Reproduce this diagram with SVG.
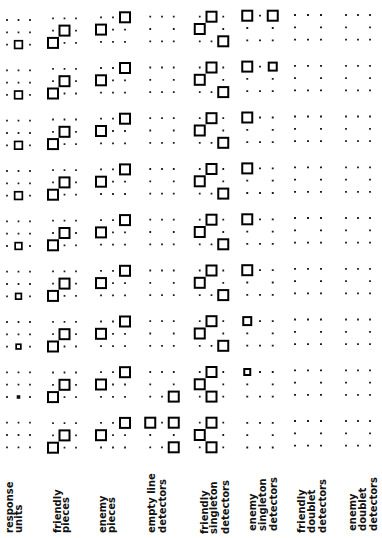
<svg xmlns="http://www.w3.org/2000/svg" xmlns:xlink="http://www.w3.org/1999/xlink" width="382" height="538" viewBox="0 0 382 538">
<style>
.dot{fill:#1a1a1a}
.sq{fill:#fff;stroke:#000;stroke-width:2}
.ru{fill:#fff;stroke:#000;stroke-width:1.7}
.lab{font-family:"DejaVu Sans",sans-serif;font-size:10px;font-weight:bold;fill:#111}
</style>
<defs>
<path id="n9" class="dot" d="M-12.9 -13.2h1.8v1.8h-1.8z M-0.9 -13.2h1.8v1.8h-1.8z M11.1 -13.2h1.8v1.8h-1.8z M-12.9 -0.9h1.8v1.8h-1.8z M-0.9 -0.9h1.8v1.8h-1.8z M11.1 -0.9h1.8v1.8h-1.8z M-12.9 11.4h1.8v1.8h-1.8z M-0.9 11.4h1.8v1.8h-1.8z M11.1 11.4h1.8v1.8h-1.8z"/>
<path id="n8" class="dot" d="M-12.9 -13.2h1.8v1.8h-1.8z M-0.9 -13.2h1.8v1.8h-1.8z M11.1 -13.2h1.8v1.8h-1.8z M-12.9 -0.9h1.8v1.8h-1.8z M11.1 -0.9h1.8v1.8h-1.8z M-12.9 11.4h1.8v1.8h-1.8z M-0.9 11.4h1.8v1.8h-1.8z M11.1 11.4h1.8v1.8h-1.8z"/>
<rect id="sq" class="sq" x="-5" y="-5" width="10" height="10"/>
<g id="c1"><use href="#n9" transform="scale(0.958,1)"/></g>
<g id="c2"><use href="#n9" transform="scale(0.958,1)"/><use href="#sq" x="0" y="0"/><use href="#sq" x="-11.5" y="12.3"/></g>
<g id="c3"><use href="#n9"/><use href="#sq" x="12" y="-12.3"/><use href="#sq" x="-12" y="0"/></g>
<g id="c4"><use href="#n8" transform="scale(0.98,1)"/></g>
<g id="c5a"><use href="#n8" transform="scale(0.98,1)"/><use href="#sq" x="0" y="-12.3"/><use href="#sq" x="-11.75" y="0"/><use href="#sq" x="11.75" y="12.3"/></g>
<g id="c5b"><use href="#n8" transform="scale(0.98,1)"/><use href="#sq" x="0" y="-12.3"/><use href="#sq" x="-11.75" y="0"/><use href="#sq" x="0" y="12.3"/></g>
<g id="c6"><use href="#n8" transform="scale(1.0625,1)"/></g>
<g id="c7"><use href="#n8" transform="scale(1.083,1)"/></g>
<g id="c8"><use href="#n8"/></g>
</defs>

<g id="response-units">
<g id="ru1" transform="translate(18.5,32.3)"><use href="#c1"/><rect class="ru" x="-3.85" y="8.45" width="7.7" height="7.7"/></g>
<g id="ru2" transform="translate(18.5,82.6)"><use href="#c1"/><rect class="ru" x="-3.85" y="8.45" width="7.7" height="7.7"/></g>
<g id="ru3" transform="translate(18.5,133)"><use href="#c1"/><rect class="ru" x="-3.85" y="8.45" width="7.7" height="7.7"/></g>
<g id="ru4" transform="translate(18.5,183.3)"><use href="#c1"/><rect class="ru" x="-3.85" y="8.45" width="7.7" height="7.7"/></g>
<g id="ru5" transform="translate(18.5,233.7)"><use href="#c1"/><rect class="ru" x="-3.35" y="8.95" width="6.7" height="6.7"/></g>
<g id="ru6" transform="translate(18.5,284)"><use href="#c1"/><rect class="ru" x="-2.85" y="9.45" width="5.7" height="5.7"/></g>
<g id="ru7" transform="translate(18.5,334.3)"><use href="#c1"/><rect class="ru" x="-2.35" y="9.95" width="4.7" height="4.7"/></g>
<g id="ru8" transform="translate(18.5,384.7)"><use href="#c1"/><rect x="-1.8" y="10.5" width="3.6" height="3.6" fill="#111"/></g>
<g id="ru9" transform="translate(18.5,435)"><use href="#c1"/></g>
</g>

<g id="friendly-pieces">
<use id="fp1" href="#c2" transform="translate(64.5,30.6)"/>
<use id="fp2" href="#c2" transform="translate(64.5,81.2)"/>
<use id="fp3" href="#c2" transform="translate(64.5,131.8)"/>
<use id="fp4" href="#c2" transform="translate(64.5,182.4)"/>
<use id="fp5" href="#c2" transform="translate(64.5,233)"/>
<use id="fp6" href="#c2" transform="translate(64.5,283.6)"/>
<use id="fp7" href="#c2" transform="translate(64.5,334.2)"/>
<use id="fp8" href="#c2" transform="translate(64.5,384.8)"/>
<use id="fp9" href="#c2" transform="translate(64.5,435.4)"/>
</g>

<g id="enemy-pieces">
<use id="ep1" href="#c3" transform="translate(113,29.6)"/>
<use id="ep2" href="#c3" transform="translate(113,80.3)"/>
<use id="ep3" href="#c3" transform="translate(113,131)"/>
<use id="ep4" href="#c3" transform="translate(113,181.7)"/>
<use id="ep5" href="#c3" transform="translate(113,232.4)"/>
<use id="ep6" href="#c3" transform="translate(113,283.1)"/>
<use id="ep7" href="#c3" transform="translate(113,333.8)"/>
<use id="ep8" href="#c3" transform="translate(113,384.5)"/>
<use id="ep9" href="#c3" transform="translate(113,435.2)"/>
</g>

<g id="empty-line-detectors">
<use id="el1" href="#c4" transform="translate(162,29)"/>
<use id="el2" href="#c4" transform="translate(162,79.8)"/>
<use id="el3" href="#c4" transform="translate(162,130.5)"/>
<use id="el4" href="#c4" transform="translate(162,181.3)"/>
<use id="el5" href="#c4" transform="translate(162,232)"/>
<use id="el6" href="#c4" transform="translate(162,282.8)"/>
<use id="el7" href="#c4" transform="translate(162,333.5)"/>
<g id="el8" transform="translate(162,384.3)"><use href="#c4"/><use href="#sq" x="11.75" y="12.3"/></g>
<g id="el9" transform="translate(162,435)"><use href="#c4"/><use href="#sq" x="-11.75" y="-12.3"/><use href="#sq" x="11.75" y="-12.3"/><use href="#sq" x="11.75" y="12.3"/></g>
</g>

<g id="friendly-singleton-detectors">
<use id="fs1" href="#c5a" transform="translate(211.5,29)"/>
<use id="fs2" href="#c5a" transform="translate(211.5,79.8)"/>
<use id="fs3" href="#c5a" transform="translate(211.5,130.5)"/>
<use id="fs4" href="#c5a" transform="translate(211.5,181.3)"/>
<use id="fs5" href="#c5a" transform="translate(211.5,232)"/>
<use id="fs6" href="#c5a" transform="translate(211.5,282.8)"/>
<use id="fs7" href="#c5a" transform="translate(211.5,333.5)"/>
<use id="fs8" href="#c5b" transform="translate(211.5,384.3)"/>
<use id="fs9" href="#c5b" transform="translate(211.5,435)"/>
</g>

<g id="enemy-singleton-detectors">
<g id="es1" transform="translate(260,28)"><use href="#c6"/><use href="#sq" x="-12.75" y="-12.3"/><use href="#sq" x="12.75" y="-12.3"/></g>
<g id="es2" transform="translate(260,78.9)"><use href="#c6"/><use href="#sq" x="-12.75" y="-12.3"/><rect class="sq" x="8.75" y="-16.3" width="8" height="8"/></g>
<g id="es3" transform="translate(260,129.8)"><use href="#c6"/><use href="#sq" x="-12.75" y="-12.3"/></g>
<g id="es4" transform="translate(260,180.7)"><use href="#c6"/><use href="#sq" x="-12.75" y="-12.3"/></g>
<g id="es5" transform="translate(260,231.6)"><use href="#c6"/><use href="#sq" x="-12.75" y="-12.3"/></g>
<g id="es6" transform="translate(260,282.5)"><use href="#c6"/><use href="#sq" x="-12.75" y="-12.3"/></g>
<g id="es7" transform="translate(260,333.4)"><use href="#c6"/><rect class="sq" x="-16.75" y="-16.3" width="8" height="8"/></g>
<g id="es8" transform="translate(260,384.3)"><use href="#c6"/><rect class="sq" x="-15.75" y="-15.3" width="6" height="6"/></g>
<use id="es9" href="#c6" transform="translate(260,435.2)"/>
</g>

<g id="friendly-doublet-detectors">
<use id="fd1" href="#c7" transform="translate(308,27.3)"/>
<use id="fd2" href="#c7" transform="translate(308,78.1)"/>
<use id="fd3" href="#c7" transform="translate(308,128.8)"/>
<use id="fd4" href="#c7" transform="translate(308,179.6)"/>
<use id="fd5" href="#c7" transform="translate(308,230.3)"/>
<use id="fd6" href="#c7" transform="translate(308,281.1)"/>
<use id="fd7" href="#c7" transform="translate(308,331.8)"/>
<use id="fd8" href="#c7" transform="translate(308,382.6)"/>
<use id="fd9" href="#c7" transform="translate(308,433.3)"/>
</g>

<g id="enemy-doublet-detectors">
<use id="ed1" href="#c8" transform="translate(358,27.3)"/>
<use id="ed2" href="#c8" transform="translate(358,78.1)"/>
<use id="ed3" href="#c8" transform="translate(358,128.8)"/>
<use id="ed4" href="#c8" transform="translate(358,179.6)"/>
<use id="ed5" href="#c8" transform="translate(358,230.3)"/>
<use id="ed6" href="#c8" transform="translate(358,281.1)"/>
<use id="ed7" href="#c8" transform="translate(358,331.8)"/>
<use id="ed8" href="#c8" transform="translate(358,382.6)"/>
<use id="ed9" href="#c8" transform="translate(358,433.3)"/>
</g>

<g id="connectors"/>

<g id="labels" class="lab">
<text transform="translate(13,533) rotate(-90)">response</text>
<text transform="translate(22,533) rotate(-90)">units</text>
<text transform="translate(60.5,533) rotate(-90)">friendly</text>
<text transform="translate(69,533) rotate(-90)">pieces</text>
<text transform="translate(106,533) rotate(-90)">enemy</text>
<text transform="translate(115,533) rotate(-90)">pieces</text>
<text transform="translate(155,533) rotate(-90)">empty line</text>
<text transform="translate(166,533) rotate(-90)">detectors</text>
<text transform="translate(207.5,534) rotate(-90)">friendly</text>
<text transform="translate(217,534) rotate(-90)">singleton</text>
<text transform="translate(229,534) rotate(-90)">detectors</text>
<text transform="translate(256,531) rotate(-90)">enemy</text>
<text transform="translate(266,531) rotate(-90)">singleton</text>
<text transform="translate(277,531) rotate(-90)">detectors</text>
<text transform="translate(304.5,533) rotate(-90)">friendly</text>
<text transform="translate(315,533) rotate(-90)">doublet</text>
<text transform="translate(326,533) rotate(-90)">detectors</text>
<text transform="translate(356,531) rotate(-90)">enemy</text>
<text transform="translate(366,531) rotate(-90)">doublet</text>
<text transform="translate(377,531) rotate(-90)">detectors</text>
</g>
</svg>
